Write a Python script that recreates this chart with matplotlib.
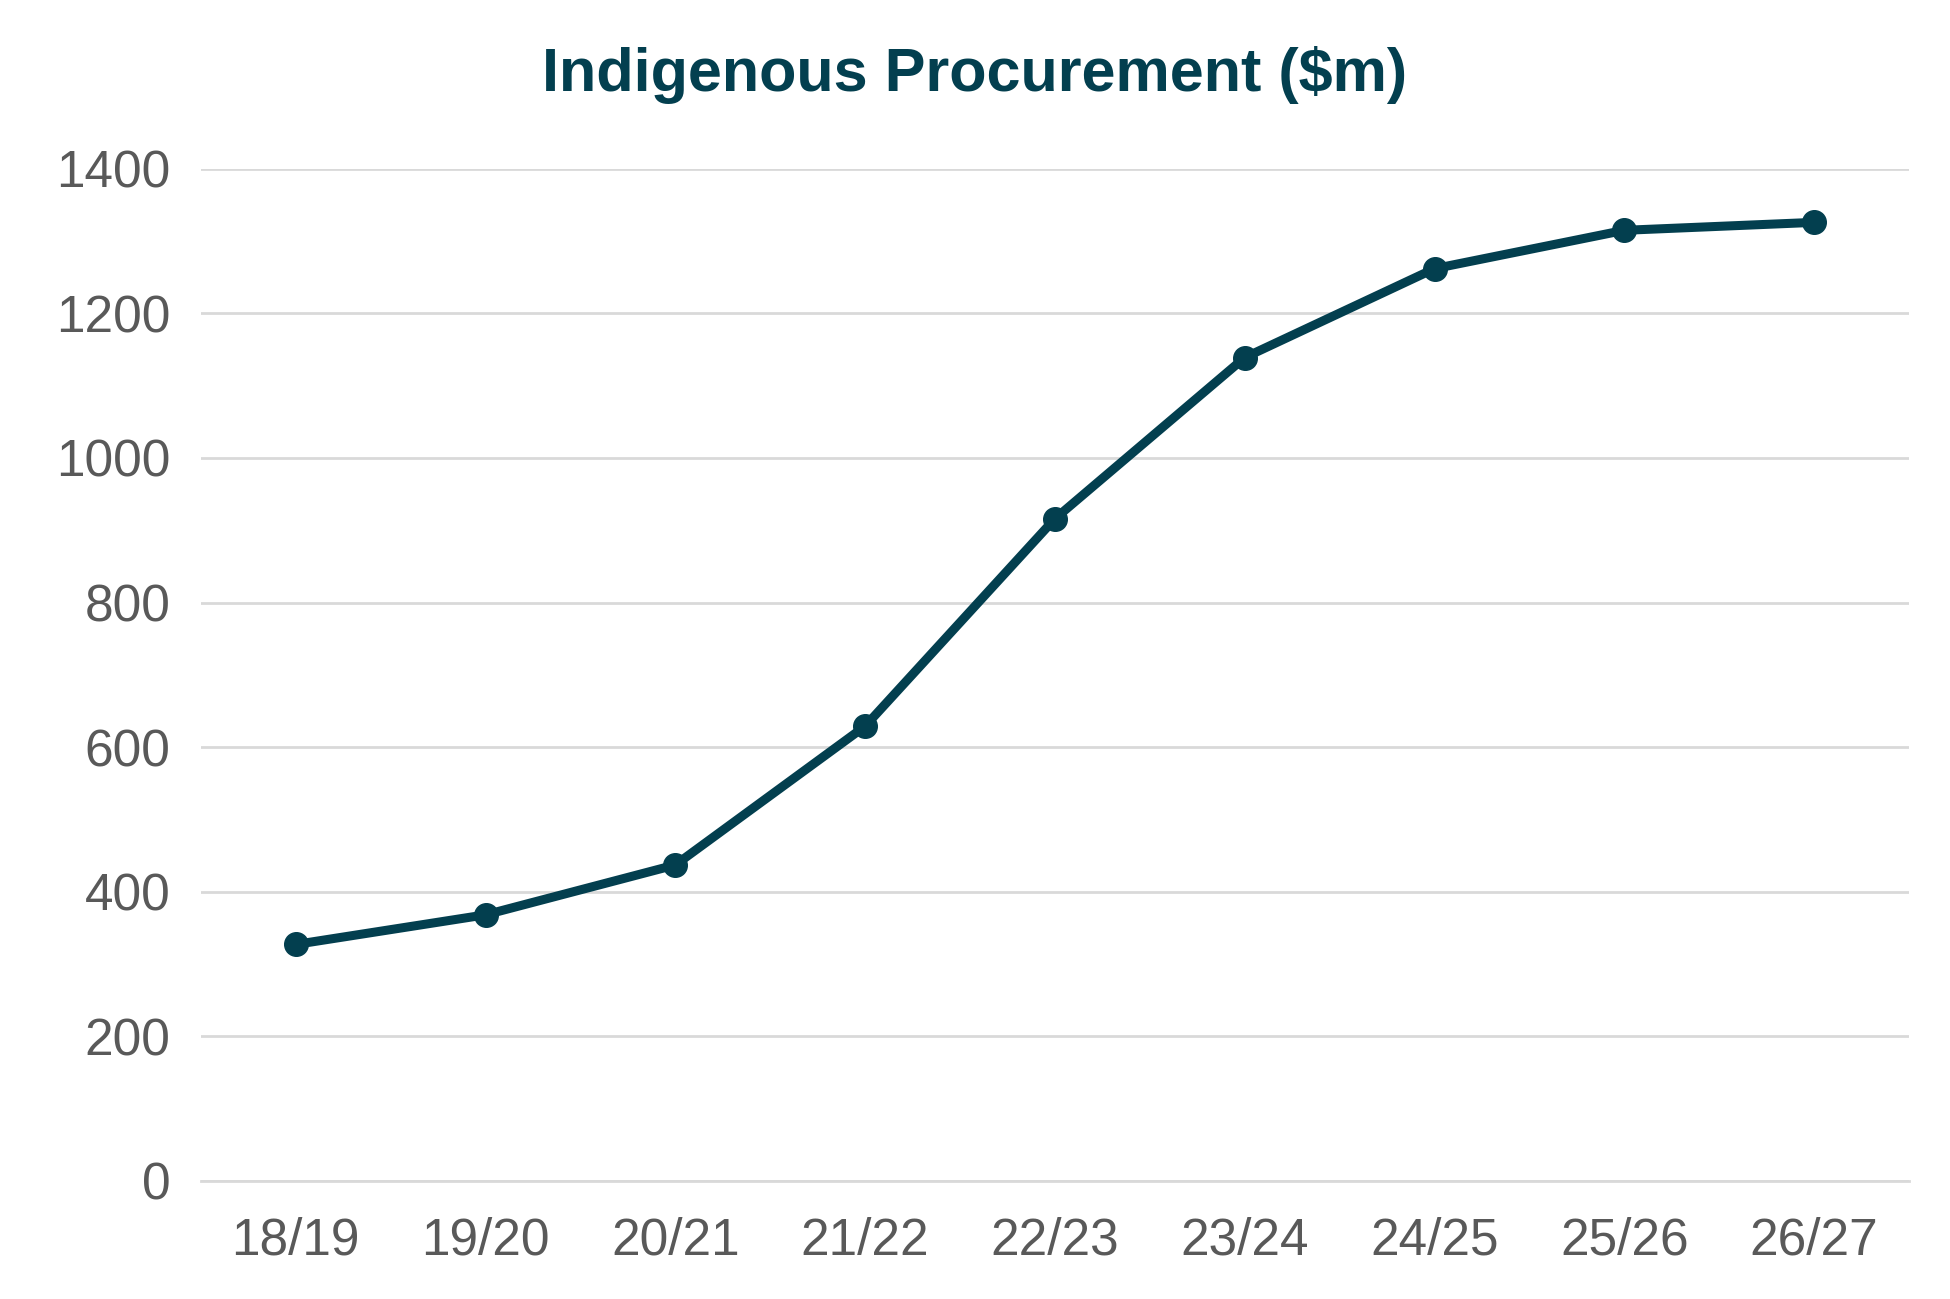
import matplotlib
matplotlib.use("Agg")
import matplotlib.pyplot as plt

categories = ["18/19", "19/20", "20/21", "21/22", "22/23", "23/24", "24/25", "25/26", "26/27"]
values = [327, 368, 437, 629, 916, 1139, 1262, 1315, 1326]
yticks = [0, 200, 400, 600, 800, 1000, 1200, 1400]

plt.rcParams['font.family'] = ['Liberation Sans', 'DejaVu Sans']
fig = plt.figure(figsize=(19.5, 12.99), dpi=100)
ax = fig.add_axes([0.103, 0.091, 0.876, 0.779])
color = "#033f4f"
x = list(range(len(categories)))
ax.plot(x, values, color=color, lw=6.5, marker='o', ms=17, zorder=3)
ax.set_xlim(-0.5, len(categories) - 0.5)
ax.set_ylim(0, 1400)
ax.set_yticks(yticks)
ax.set_xticks(x)
ax.set_xticklabels(categories)
ax.grid(axis='y', color='#d9d9d9', lw=2)
ax.set_axisbelow(True)
for s in ['top', 'right', 'left']:
    ax.spines[s].set_visible(False)
ax.spines['bottom'].set_color('#d9d9d9')
ax.spines['bottom'].set_linewidth(2)
ax.tick_params(length=0, labelsize=37, colors='#595959', pad=22)
ax.tick_params(axis='x', pad=26)
fig.suptitle("Indigenous Procurement ($m)", x=0.5, y=0.942, va='center',
             fontsize=44, fontweight='bold', color=color)
fig.savefig("out.png", dpi=100, facecolor='white')
